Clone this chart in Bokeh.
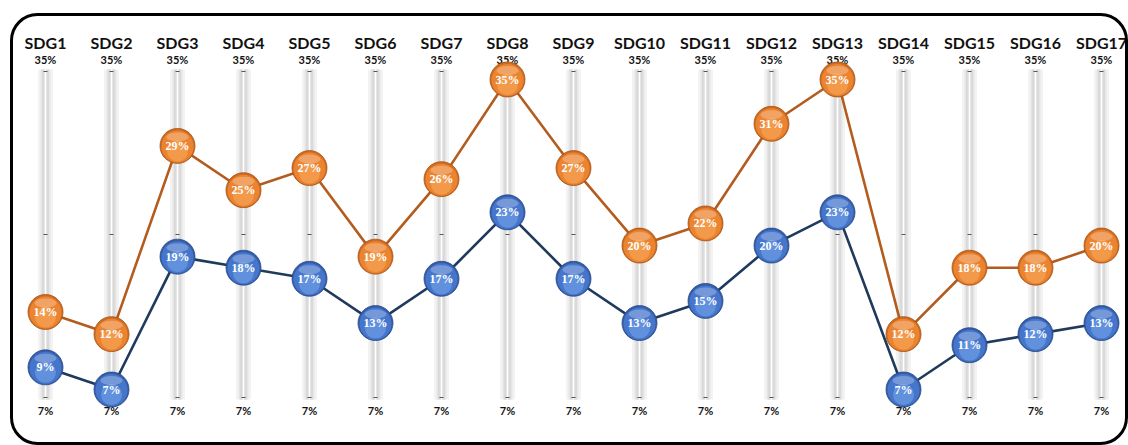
import numpy as np
from bokeh.plotting import figure
from bokeh.models import Range1d, ColumnDataSource, BoxAnnotation
from bokeh.core.properties import value
from bokeh.embed import file_html
from bokeh.resources import INLINE

# ---- data -------------------------------------------------------------
categories = ["SDG1", "SDG2", "SDG3", "SDG4", "SDG5", "SDG6", "SDG7", "SDG8", "SDG9",
              "SDG10", "SDG11", "SDG12", "SDG13", "SDG14", "SDG15", "SDG16", "SDG17"]
orange_values = [14, 12, 29, 25, 27, 19, 26, 35, 27, 20, 22, 31, 35, 12, 18, 18, 20]
blue_values = [9, 7, 19, 18, 17, 13, 17, 23, 17, 13, 15, 20, 23, 7, 11, 12, 13]
scale_max = 35
scale_min = 7
scale_top_label = "35%"
scale_bottom_label = "7%"

# ---- layout -----------------------------------------------------------
W, H = 1128, 445
x0_px, dx_px = 45, 66            # first column centre and column spacing (px)
y_px_max, y_px_min = 79, 389     # pixel rows of scale_max / scale_min
ppu = (y_px_min - y_px_max) / (scale_max - scale_min)   # px per percentage point


def dy(px):
    """vertical pixel distance -> data units"""
    return px / ppu


def dx(px):
    """horizontal pixel distance -> data units"""
    return px / dx_px


x_range = Range1d(-x0_px / dx_px, (W - x0_px) / dx_px)
y_range = Range1d(scale_max - (H - y_px_max) / ppu, scale_max + y_px_max / ppu)

p = figure(width=W, height=H, x_range=x_range, y_range=y_range,
           output_backend="svg", toolbar_location=None,
           x_axis_location=None, y_axis_location=None,
           min_border=0, outline_line_color=None,
           background_fill_color="white", border_fill_color="white")
p.grid.visible = False

xs = np.arange(len(categories))

# ---- rounded frame ----------------------------------------------------
frame = BoxAnnotation(left=x_range.start + dx(11), right=x_range.start + dx(1126),
                      top=y_range.end - dy(14), bottom=y_range.end - dy(443),
                      fill_color=None, fill_alpha=0,
                      line_color="black", line_alpha=1.0, line_width=3,
                      border_radius=26)
p.add_layout(frame)

# ---- vertical scale bars ---------------------------------------------
bar_top = scale_max + dy(10)
bar_bot = scale_min - dy(10)
bar_mid = (bar_top + bar_bot) / 2
bar_h = bar_top - bar_bot
mids = [bar_mid] * len(xs)
p.rect(xs, mids, width=15, width_units="screen", height=bar_h,
       fill_color="#f3f3f3", line_color=None)
p.rect(xs, mids, width=10, width_units="screen", height=bar_h,
       fill_color="#e5e5e5", line_color=None)
p.rect(xs, mids, width=7, width_units="screen", height=bar_h,
       fill_color="#dadada", line_color=None)
p.rect(xs, mids, width=1.6, width_units="screen", height=bar_h,
       fill_color="#ffffff", line_color=None)
for yy in (bar_top - dy(2), bar_mid, bar_bot + dy(2)):
    p.scatter(xs, [yy] * len(xs), marker="dash", size=4, line_color="#555555",
              line_width=1)

# ---- column headings and scale labels ---------------------------------
p.text(xs, [scale_max + dy(37)] * len(xs), text=categories,
       text_align="center", text_baseline="middle",
       text_font=value("Lato"), text_font_style="bold", text_font_size="16px",
       text_color="#111111")
p.text(xs, [scale_max + dy(20)] * len(xs), text=[scale_top_label] * len(xs),
       text_align="center", text_baseline="middle",
       text_font=value("Lato"), text_font_style="bold", text_font_size="11px",
       text_color="#111111")
p.text(xs, [scale_min - dy(21)] * len(xs), text=[scale_bottom_label] * len(xs),
       text_align="center", text_baseline="middle",
       text_font=value("Lato"), text_font_style="bold", text_font_size="11px",
       text_color="#111111")

# ---- series -----------------------------------------------------------
# (values, line colour, rim colour, outline, body colour, glow colour)
series = [
    (orange_values, "#b35c1e", "#d06a1e", "#a65419", "#eb8431", "#f8ab5e"),
    (blue_values, "#1f3a5c", "#345ca8", "#284a88", "#4676cb", "#79a5ec"),
]

for vals, line_c, *_ in series:
    p.line(xs, vals, line_color=line_c, line_width=2.6)

for vals, line_c, rim_c, edge_c, body_c, glow_c in series:
    v = np.array(vals, dtype=float)
    src = ColumnDataSource(dict(x=xs, y=v, label=[f"{int(t)}%" for t in vals]))
    p.scatter("x", "y", source=src, size=35, fill_color=rim_c,
              line_color=edge_c, line_width=0.8)
    p.scatter(xs, v - dy(0.5), size=32, fill_color=body_c, line_color=None)
    p.scatter(xs, v - dy(5), size=21, fill_color=glow_c, fill_alpha=0.55,
              line_color=None)
    p.ellipse(xs, v + dy(9), width=22, height=9, width_units="screen",
              height_units="screen", fill_color="white", fill_alpha=0.25,
              line_color=None)
    p.text("x", "y", text="label", source=src, text_align="center",
           text_baseline="middle", text_font=value("Liberation Serif"),
           text_font_style="bold", text_font_size="12px", text_color="white")

open("out.html", "w").write(file_html(p, INLINE))
